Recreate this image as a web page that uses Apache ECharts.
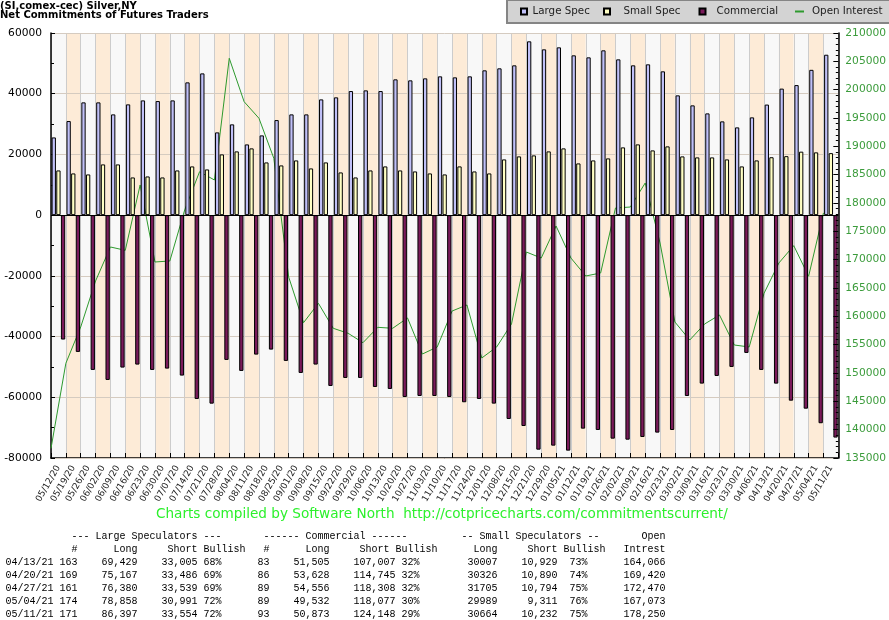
<!DOCTYPE html>
<html>
<head>
<meta charset="utf-8">
<script src="https://cdn.jsdelivr.net/npm/echarts@6/dist/echarts.min.js"></script>
<style>
html,body{margin:0;padding:0;background:#fff;}
#chart{width:889px;height:620px;}
</style>
</head>
<body>
<div id="chart"></div>
<script>
// ---------- data ----------
const dates = ['05/12/20','05/19/20','05/26/20','06/02/20','06/09/20','06/16/20','06/23/20','06/30/20','07/07/20','07/14/20',
  '07/21/20','07/28/20','08/04/20','08/11/20','08/18/20','08/25/20','09/01/20','09/08/20','09/15/20','09/22/20',
  '09/29/20','10/06/20','10/13/20','10/20/20','10/27/20','11/03/20','11/10/20','11/17/20','11/24/20','12/01/20',
  '12/08/20','12/15/20','12/21/20','12/29/20','01/05/21','01/12/21','01/19/21','01/26/21','02/02/21','02/09/21',
  '02/16/21','02/23/21','03/02/21','03/09/21','03/16/21','03/23/21','03/30/21','04/06/21','04/13/21','04/20/21',
  '04/27/21','05/04/21','05/11/21'];

const largeSpec = [25600,31000,37150,37150,33190,36490,37800,37580,37800,43740,
  46700,27260,29900,23300,26270,31320,33190,33190,38130,38800,
  40880,41100,40880,44730,44400,45060,45720,45390,45720,47700,
  48360,49350,57260,54620,55280,52640,51980,54290,51320,49350,
  49680,47370,39460,36160,33520,30890,28910,32210,36424,41681,
  42841,47867,52843];

const smallSpec = [14730,13740,13410,16710,16710,12420,12750,12420,14730,16050,
  15060,20010,21000,21990,17370,16380,18030,15390,17370,14070,
  12420,14730,16050,14730,14400,13740,13410,16050,14400,13740,
  18360,19350,19680,21000,21990,17040,18030,18690,22320,23310,
  21330,22650,19350,19020,19020,18360,16050,18030,19078,19436,
  20911,20678,20432];

const commercial = [-40980,-45060,-50990,-54290,-50220,-49230,-50990,-50550,-52850,-60550,
  -62090,-47690,-51320,-45940,-44290,-48020,-51980,-49230,-56270,-53630,
  -53630,-56600,-57260,-59900,-59570,-59570,-59900,-61640,-60550,-62090,
  -67150,-69460,-77250,-75930,-77580,-70330,-70770,-73630,-73960,-73080,
  -71640,-70770,-59570,-55490,-52980,-50000,-45390,-50990,-55502,-61117,
  -63752,-68545,-73275];

const openInterest = [136700,151710,158120,166240,172240,171650,183180,169590,169770,178770,
  185520,184060,205540,197880,194950,187890,166940,158880,162300,157890,
  157010,155350,158060,157890,159710,153350,154590,160940,162000,152650,
  154590,158650,171350,170290,175940,170290,167120,167650,179120,179290,
  183530,172940,159000,155820,158650,160240,154940,154590,164066,169420,
  172470,167073,178250];

// table
const tblDates   = ['04/13/21','04/20/21','04/27/21','05/04/21','05/11/21'];
const lsCount    = [163,169,161,174,171];
const lsLong     = [69429,75167,76380,78858,86397];
const lsShort    = [33005,33486,33539,30991,33554];
const lsBull     = ['68%','69%','69%','72%','72%'];
const cmCount    = [83,86,89,89,93];
const cmLong     = [51505,53628,54556,49532,50873];
const cmShort    = [107007,114745,118308,118077,124148];
const cmBull     = ['32%','32%','32%','30%','29%'];
const ssLong     = [30007,30326,31705,29989,30664];
const ssShort    = [10929,10890,10794,9311,10232];
const ssBull     = ['73%','74%','75%','76%','75%'];
const oiTable    = [164066,169420,172470,167073,178250];

const yLeftMin = -80000, yLeftMax = 60000, yLeftStep = 20000;
const yRightMin = 135000, yRightMax = 210000, yRightStep = 5000;

// ---------- build ----------
const fmt = n => n.toLocaleString('en-US');
const header1 = ' '.repeat(11) + '--- Large Speculators ---' + ' '.repeat(7) + '------ Commercial ------' +
  ' '.repeat(9) + '-- Small Speculators --' + ' '.repeat(7) + 'Open';
const header2 = ' '.repeat(11) + '#' + 'Long'.padStart(10) + 'Short'.padStart(10) + ' Bullish' +
  '#'.padStart(4) + 'Long'.padStart(10) + 'Short'.padStart(10) + ' Bullish' +
  'Long'.padStart(10) + 'Short'.padStart(10) + ' Bullish' + 'Intrest'.padStart(10);
const rows = tblDates.map((d, i) =>
  d + ' ' + String(lsCount[i]).padStart(3) + fmt(lsLong[i]).padStart(10) + fmt(lsShort[i]).padStart(10) +
  lsBull[i].padStart(4) + String(cmCount[i]).padStart(8) + fmt(cmLong[i]).padStart(10) +
  fmt(cmShort[i]).padStart(11) + cmBull[i].padStart(4) + String(ssLong[i]).padStart(13) +
  fmt(ssShort[i]).padStart(10) + ssBull[i].padStart(5) + fmt(oiTable[i]).padStart(13));
const tableLines = [header1, header2].concat(rows);

const mono = '10px "Liberation Mono", "DejaVu Sans Mono", monospace';
const graphics = [
  {type:'rect', z:0, x:507, y:0, shape:{x:0, y:0, width:384, height:23},
    style:{fill:'#d3d3d3', stroke:'#858585', lineWidth:2}},
  {type:'text', z:5, x:0, y:6.8, style:{text:'(SI,comex-cec) Silver,NY', font:'bold 10px "DejaVu Sans"', fill:'#000',
    textAlign:'left', textVerticalAlign:'middle', align:'left', verticalAlign:'middle'}},
  {type:'text', z:5, x:0, y:15, style:{text:'Net Commitments of Futures Traders', font:'bold 10px "DejaVu Sans"', fill:'#000',
    textAlign:'left', textVerticalAlign:'middle', align:'left', verticalAlign:'middle'}},
  {type:'text', z:5, x:156, y:514.5, style:{text:'Charts compiled by Software North  http://cotpricecharts.com/commitmentscurrent/',
    font:'13.6px "DejaVu Sans"', fill:'#2cf02c', textAlign:'left', textVerticalAlign:'middle', align:'left', verticalAlign:'middle'}}
];
tableLines.forEach((t, k) => {
  graphics.push({type:'text', z:5, x:5.5, y:536 + 13.1 * k, style:{text:t, font:mono, fill:'#000',
    textAlign:'left', textVerticalAlign:'middle', align:'left', verticalAlign:'middle'}});
});

function legendFor(name, left, textPad, icon, w, h) {
  return {
    show:true, z:10, left:left, top:6.5, padding:0, selectedMode:false,
    itemWidth:w, itemHeight:h,
    data:[{name:name, icon:icon}],
    textStyle:{fontFamily:'DejaVu Sans', fontSize:10.3, color:'#222', padding:[0,0,0,textPad]}
  };
}

const barStyle = c => ({color:c, borderColor:'#000', borderWidth:1});

const option = {
  animation:false,
  backgroundColor:'#ffffff',
  textStyle:{fontFamily:'DejaVu Sans'},
  grid:{left:51, right:50.5, top:33, bottom:162},
  legend:[
    legendFor('Large Spec', 520, 0.5, 'rect', 6, 6),
    legendFor('Small Spec', 603, 8.5, 'rect', 6, 6),
    legendFor('Commercial', 698.5, 6, 'rect', 6, 6),
    legendFor('Open Interest', 795, 3, 'rect', 9, 2)
  ],
  xAxis:[{
    type:'category', data:dates, boundaryGap:true,
    axisLine:{show:true, onZero:false, lineStyle:{color:'#000', width:1.5}},
    axisTick:{show:true, inside:true, length:5, interval:0, lineStyle:{color:'#000'}},
    axisLabel:{interval:0, rotate:60, fontSize:9, color:'#222', margin:8, fontFamily:'DejaVu Sans'},
    splitLine:{show:true, interval:0, lineStyle:{color:'#cccccc', width:1}},
    splitArea:{show:true, interval:0, areaStyle:{color:['#f8f8f8','#fdebd7']}}
  },{
    type:'category', data:dates.concat(['']), boundaryGap:false, show:false
  }],
  yAxis:[{
    type:'value', min:yLeftMin, max:yLeftMax, interval:yLeftStep, position:'left', z:1,
    axisLine:{show:true, lineStyle:{color:'#000', width:1.5}},
    axisTick:{show:true, inside:true, length:4, lineStyle:{color:'#000'}},
    minorTick:{show:true, splitNumber:2, length:3, lineStyle:{color:'#000'}},
    axisLabel:{fontSize:10.67, color:'#000', margin:9, formatter:v => String(v)},
    splitLine:{show:true, lineStyle:{color:'#d5cbc0', width:1}}
  },{
    type:'value', min:yRightMin, max:yRightMax, interval:yRightStep, position:'right', z:3,
    axisLine:{show:true, lineStyle:{color:'#000', width:1.5}},
    axisTick:{show:true, inside:true, length:5, lineStyle:{color:'#000'}},
    minorTick:{show:true, splitNumber:5, length:2.5, lineStyle:{color:'#000'}},
    axisLabel:{fontSize:10.67, color:'#3c9c3c', margin:7, formatter:v => String(v)},
    splitLine:{show:false}
  }],
  series:[
    {name:'Open Interest', type:'line', z:1, xAxisIndex:1, yAxisIndex:1, data:openInterest,
      symbol:'none', lineStyle:{color:'#2e9a2e', width:1}, itemStyle:{color:'#2e9a2e'}},
    {name:'Large Spec', type:'bar', z:2, xAxisIndex:0, yAxisIndex:0, data:largeSpec,
      barWidth:4.3, barGap:'8%', itemStyle:barStyle('#c0c0f8'),
      markLine:{silent:true, symbol:['none','none'], label:{show:false},
        lineStyle:{color:'#000', type:'solid', width:1}, data:[{yAxis:0}]}},
    {name:'Small Spec', type:'bar', z:2, xAxisIndex:0, yAxisIndex:0, data:smallSpec,
      barWidth:4.3, barGap:'8%', itemStyle:barStyle('#ffffc4')},
    {name:'Commercial', type:'bar', z:2, xAxisIndex:0, yAxisIndex:0, data:commercial,
      barWidth:4.3, barGap:'8%', itemStyle:barStyle('#7a1a5a')}
  ],
  graphic:graphics
};

const chart = echarts.init(document.getElementById('chart'), null, {renderer:'canvas'});
chart.setOption(option);
</script>
</body>
</html>
